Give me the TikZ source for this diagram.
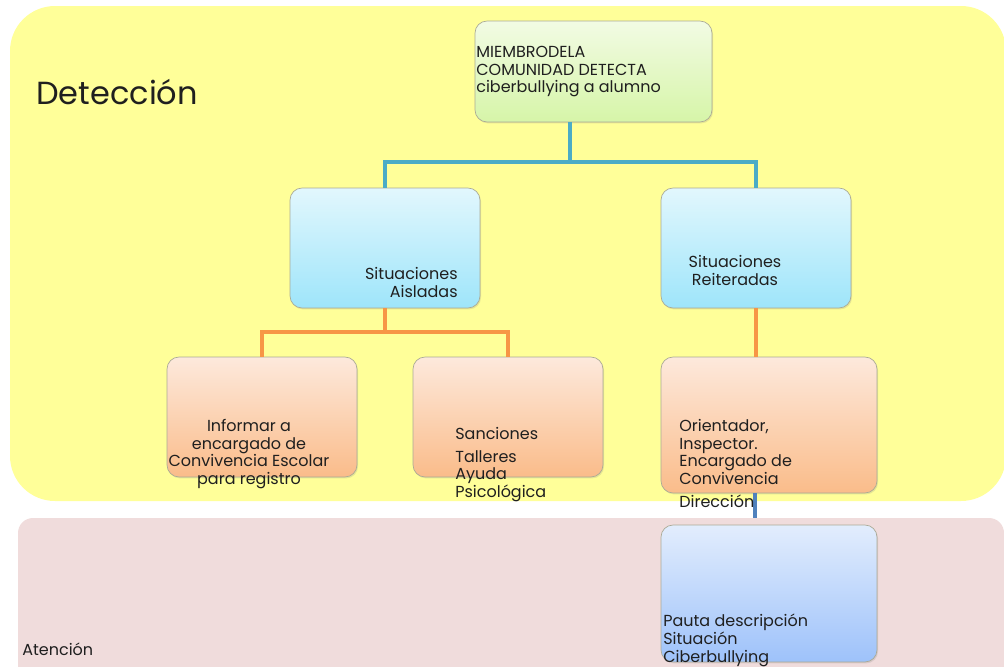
\documentclass[tikz,border=0pt]{standalone}
\usepackage{fontspec}
\setmainfont{Poppins}
\usetikzlibrary{calc,shadows}
\definecolor{zoneyellow}{RGB}{255,255,153}
\definecolor{zonepink}{RGB}{240,220,220}
\definecolor{boxedge}{RGB}{170,170,150}
\definecolor{linkblue}{RGB}{75,172,198}
\definecolor{linkorange}{RGB}{247,150,70}
\definecolor{linkdark}{RGB}{79,129,189}
\tikzset{
	box/.style={rounded corners=0.24cm, draw=boxedge, line width=0.4pt, inner sep=0pt,
		drop shadow={opacity=0.2, shadow xshift=0.6pt, shadow yshift=-0.8pt}},
	greenbox/.style={box, top color={rgb,255:red,242;green,251;blue,228}, bottom color={rgb,255:red,214;green,245;blue,168},
		minimum width=4.74cm, minimum height=2.02cm},
	cyanbox/.style={box, top color={rgb,255:red,226;green,247;blue,253}, bottom color={rgb,255:red,158;green,229;blue,250},
		minimum width=3.8cm, minimum height=2.4cm},
	peachbox/.style={box, top color={rgb,255:red,253;green,233;blue,220}, bottom color={rgb,255:red,250;green,188;blue,138},
		minimum width=3.8cm, minimum height=2.4cm},
	skybox/.style={box, top color={rgb,255:red,226;green,237;blue,253}, bottom color={rgb,255:red,158;green,194;blue,250},
		minimum width=4.32cm, minimum height=2.74cm},
	txt/.style={inner sep=0pt, font=\fontsize{9.1}{10}\selectfont, text=black!88},
	blueline/.style={line width=2.1pt, draw=linkblue},
	orangeline/.style={line width=2.1pt, draw=linkorange},
	darkline/.style={line width=2.1pt, draw=linkdark},
}

\begin{document}
\begin{tikzpicture}[x=0.02cm, y=-0.02cm]
		%%%%% START %%%%%
		\useasboundingbox (0,0) rectangle (1004,666);
		
		% zones
		\fill[zoneyellow, rounded corners=0.9cm] (10,6) rectangle (1006,501);
		\fill[zonepink, rounded corners=0.3cm] (18,518) rectangle (1004,690);
		
		% boxes
		\node[greenbox] (mdet) at (593.5,71.5) {};
		\node[cyanbox] (ais) at (385,248) {};
		\node[cyanbox] (rei) at (756,248) {};
		\node[peachbox] (inf) at (262,417) {};
		\node[peachbox] (san) at (508,417) {};
		\node[peachbox, minimum width=4.32cm, minimum height=2.72cm] (ori) at (769,425) {};
		\node[skybox] (pau) at (769,593.5) {};
		
		% links
		\coordinate (jtop) at (570,162);
		\draw[blueline] (mdet.south -| jtop) -- (jtop) -| (ais.north);
		\draw[blueline] (jtop) -| (rei.north);
		\coordinate (jais) at (385,332);
		\draw[orangeline] (ais.south) -- (jais) -| (inf.north);
		\draw[orangeline] (jais) -| (san.north);
		\draw[orangeline] (rei.south) -- (rei.south |- ori.north);
		\coordinate (jatn) at (755,518);
		\draw[darkline] (ori.south -| jatn) -- (jatn);
		
		% texts
		\node[txt, anchor=north west, align=left] (tmdet) at (476,46) {MIEMBRODELA\\COMUNIDAD DETECTA\\ciberbullying a alumno};
		\node[txt, anchor=north east, align=right] (tais) at (458,267) {Situaciones\\Aisladas};
		\node[txt, anchor=north, align=center] (trei) at (735,255) {Situaciones\\Reiteradas};
		\node[txt, anchor=north, align=center] (tinf) at (249,419) {Informar a\\encargado de\\Convivencia Escolar\\para registro};
		\node[txt, anchor=north west, align=left] (tsan) at (455,427) {Sanciones\\[3pt]Talleres\\Ayuda\\Psicológica};
		\node[txt, anchor=north west, align=left] (tori) at (679,419) {Orientador,\\Inspector.\\Encargado de\\Convivencia\\[3pt]Dirección};
		\node[txt, anchor=north west, align=left] (tpau) at (663,614) {Pauta descripción\\Situación\\Ciberbullying};
		\node[txt, anchor=north west, font=\fontsize{18.2}{20}\selectfont] (tdet) at (36,79) {Detección};
		\node[txt, anchor=north west] (taten) at (22,643) {Atención};
		
		%%%%% END %%%%%
	\end{tikzpicture}
\end{document}
